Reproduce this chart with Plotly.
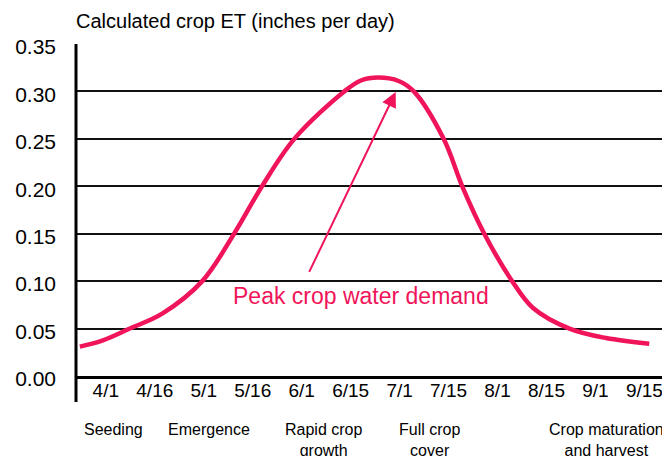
import plotly.graph_objects as go

# ---- data ----
tick_labels = ["4/1", "4/16", "5/1", "5/16", "6/1", "6/15", "7/1", "7/15", "8/1", "8/15", "9/1", "9/15"]
# curve position expressed in half-month periods (0 = 4/1, 11 = 9/15)
period = [-0.53, -0.06, 0.49, 1.16, 1.97, 2.62, 3.19, 3.85, 4.87, 5.21, 5.56, 5.98, 6.29, 6.90, 7.28, 7.73, 8.30, 8.72, 9.47, 10.22, 11.10]
et_in_per_day = [0.031, 0.0375, 0.050, 0.066, 0.100, 0.150, 0.200, 0.250, 0.300, 0.3115, 0.3146, 0.311, 0.300, 0.250, 0.200, 0.150, 0.100, 0.072, 0.050, 0.040, 0.034]
y_ticks = [0.00, 0.05, 0.10, 0.15, 0.20, 0.25, 0.30, 0.35]
stage_labels = ["Seeding", "Emergence", "Rapid crop<br>growth", "Full crop<br>cover", "Crop maturation<br>and harvest"]
stage_period = [0.16, 2.11, 4.44, 6.61, 10.22]
peak_label = "Peak crop water demand"
peak_arrow_head = (5.92, 0.2994)
peak_arrow_tail = (4.14, 0.1082)
peak_label_pos = (5.21, 0.084)

PINK = "#F0145A"
FONT = "Liberation Sans, Arial, Helvetica, sans-serif"

fig = go.Figure()
fig.add_trace(go.Scatter(
    x=period, y=et_in_per_day, mode="lines",
    line=dict(color=PINK, width=4.5, shape="spline", smoothing=1.0),
    hoverinfo="skip", showlegend=False,
))

annotations = []
# title
annotations.append(dict(
    text="Calculated crop ET (inches per day)", xref="paper", yref="paper",
    x=0, y=1, xanchor="left", yanchor="middle", yshift=23, xshift=-2,
    showarrow=False, font=dict(family=FONT, size=20, color="black"),
))
# arrow
annotations.append(dict(
    x=peak_arrow_head[0], y=peak_arrow_head[1], ax=peak_arrow_tail[0], ay=peak_arrow_tail[1],
    xref="x", yref="y", axref="x", ayref="y", text="", showarrow=True,
    arrowhead=2, arrowsize=1.5, arrowwidth=2, arrowcolor=PINK, standoff=0, startstandoff=0,
))
# peak label
annotations.append(dict(
    x=peak_label_pos[0], y=peak_label_pos[1], xref="x", yref="y", text=peak_label,
    showarrow=False, font=dict(family=FONT, size=23, color=PINK),
))
# stage labels
for lab, px in zip(stage_labels, stage_period):
    annotations.append(dict(
        x=px, y=0, xref="x", yref="paper", text=lab, showarrow=False,
        xanchor="center", yanchor="top", yshift=-43, align="center",
        font=dict(family=FONT, size=16, color="black"),
    ))

shapes = [dict(type="line", xref="paper", yref="paper", x0=0, x1=0, y0=-26 / 332, y1=1,
               line=dict(color="black", width=3))]

# the page body adds an 8px margin, so the figure is 8px smaller and shifted
fig.update_layout(
    width=662, height=448,
    margin=dict(l=65, r=7, t=36, b=80),
    paper_bgcolor="white", plot_bgcolor="white",
    font=dict(family=FONT, color="black"),
    annotations=annotations, shapes=shapes,
    xaxis=dict(
        range=[-0.609, 11.36], tickmode="array",
        tickvals=list(range(len(tick_labels))), ticktext=tick_labels,
        showgrid=False, zeroline=False, showline=True, linecolor="black", linewidth=2.5,
        ticks="", tickfont=dict(family=FONT, size=19, color="black"),
        ticklabelstandoff=-5,
    ),
    yaxis=dict(
        range=[0, 0.35], tickmode="array", tickvals=y_ticks, tickformat=".2f",
        showgrid=True, gridcolor="#111111", gridwidth=2, zeroline=False, showline=False,
        ticks="", tickfont=dict(family=FONT, size=21, color="black"),
        ticklabelstandoff=19, ticklabelshift=3,
    ),
)

fig.write_html("out.html")
